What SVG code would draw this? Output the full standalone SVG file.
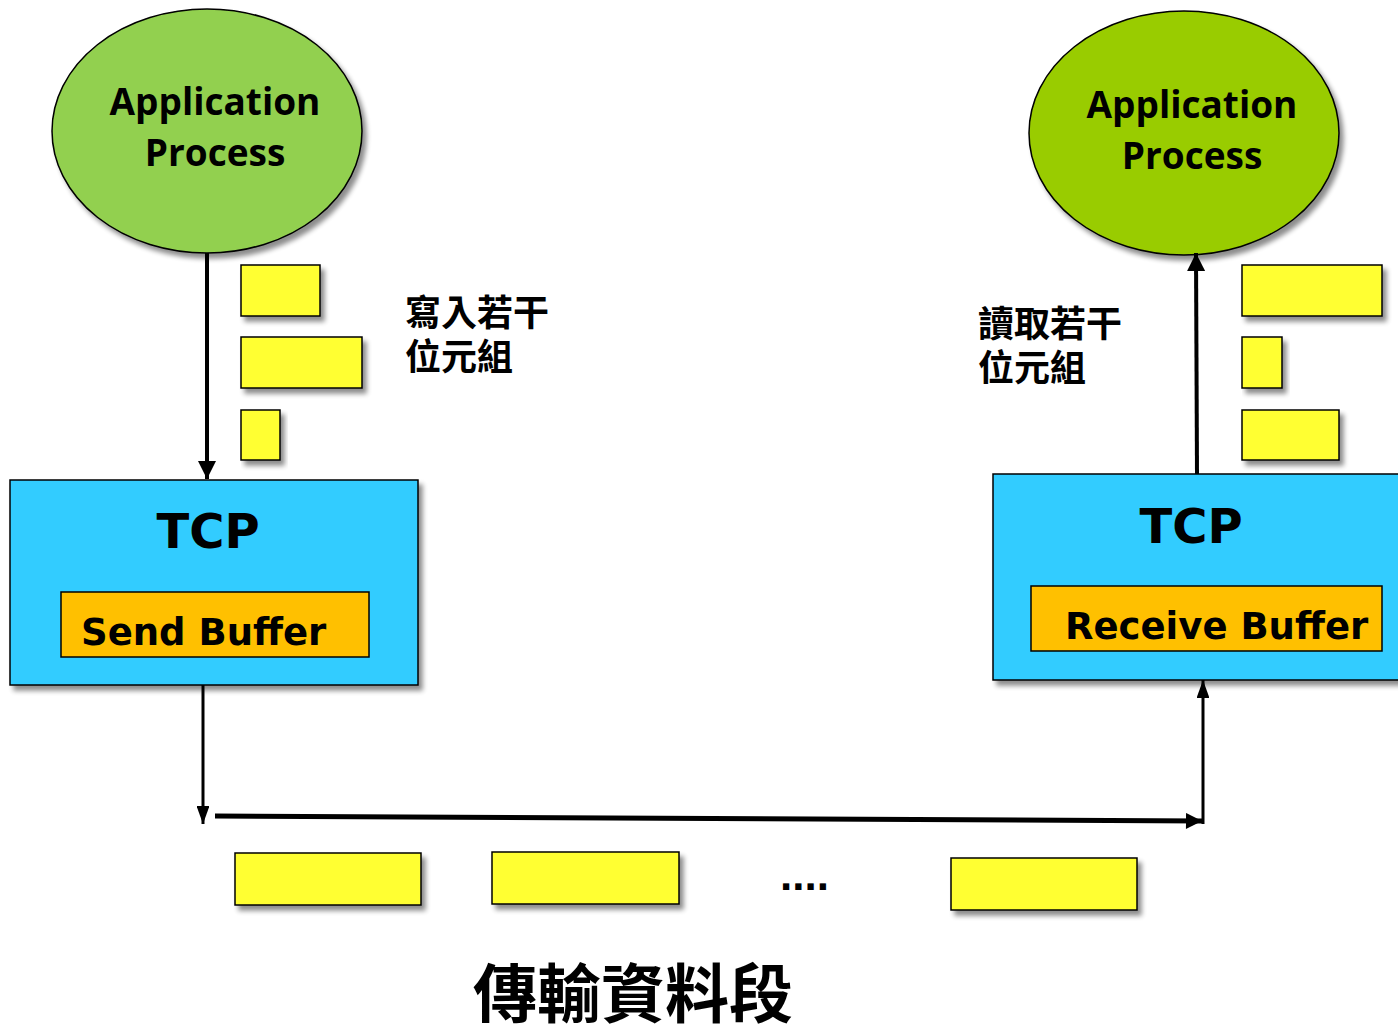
<svg xmlns="http://www.w3.org/2000/svg" width="1398" height="1029" viewBox="0 0 1398 1029">
  <defs>
    <filter id="shadow" x="-10%" y="-10%" width="130%" height="140%">
      <feGaussianBlur in="SourceAlpha" stdDeviation="2.5"/>
      <feOffset dx="4" dy="5" result="o"/>
      <feComponentTransfer><feFuncA type="linear" slope="0.45"/></feComponentTransfer>
      <feMerge><feMergeNode/><feMergeNode in="SourceGraphic"/></feMerge>
    </filter>
    <marker id="head" viewBox="0 0 10 10" refX="10" refY="5" markerWidth="4.5" markerHeight="4.5" orient="auto" markerUnits="strokeWidth">
      <path d="M0,0 L10,5 L0,10 z" fill="#000"/>
    </marker>
    <marker id="headWide" viewBox="0 0 10 10" refX="10" refY="5" markerWidth="3.5" markerHeight="3.2" orient="auto" markerUnits="strokeWidth">
      <path d="M0,0 L10,5 L0,10 z" fill="#000"/>
    </marker>
    <marker id="headThin" viewBox="0 0 14 10" refX="14" refY="5" markerWidth="6" markerHeight="4.3" orient="auto" markerUnits="strokeWidth">
      <path d="M0,0 L14,5 L0,10 z" fill="#000"/>
    </marker>
  </defs>
  <style>
    .proc { stroke: #000; stroke-width: 1.5; filter: url(#shadow); }
    .procText { font-family: "Open Sans", "Noto Sans", sans-serif; font-weight: bold; font-size: 37px; fill: #000; text-anchor: middle; }
    .tcp { fill: #33CCFF; stroke: #000; stroke-width: 1.5; filter: url(#shadow); }
    .buf { fill: #FFC000; stroke: #000; stroke-width: 1.5; }
    .tcpText { font-family: "DejaVu Sans", Verdana, sans-serif; font-weight: bold; font-size: 48px; fill: #000; text-anchor: middle; }
    .bufText { font-family: "DejaVu Sans", Verdana, sans-serif; font-weight: bold; font-size: 37px; fill: #000; }
    .seg { fill: #FFFF33; stroke: #000; stroke-width: 1.5; filter: url(#shadow); }
    .cjk { font-family: "Noto Sans CJK TC", "Noto Sans CJK SC", sans-serif; font-weight: bold; fill: #000; }
    .note { font-size: 36px; }
    .wire { fill: none; stroke: #000; }
  </style>

  <rect width="1398" height="1029" fill="#fff"/>

  <!-- sending application -->
  <g id="app-send">
    <ellipse class="proc" cx="207" cy="131" rx="155" ry="122" fill="#92D050"/>
    <text class="procText" x="215" y="115">Application</text>
    <text class="procText" x="215" y="166">Process</text>
  </g>

  <!-- receiving application -->
  <g id="app-recv">
    <ellipse class="proc" cx="1184" cy="133" rx="155" ry="122" fill="#99CC00"/>
    <text class="procText" x="1192" y="118">Application</text>
    <text class="procText" x="1192" y="169">Process</text>
  </g>

  <!-- sending TCP -->
  <g id="tcp-send">
    <rect class="tcp" x="10" y="480" width="408" height="205"/>
    <text class="tcpText" x="208" y="548">TCP</text>
    <rect class="buf" x="61" y="592" width="308" height="65"/>
    <text class="bufText" x="81" y="645">Send Buffer</text>
  </g>

  <!-- receiving TCP -->
  <g id="tcp-recv">
    <rect class="tcp" x="993" y="474" width="410" height="206"/>
    <text class="tcpText" x="1191" y="543">TCP</text>
    <rect class="buf" x="1031" y="586" width="351" height="65"/>
    <text class="bufText" x="1065" y="639">Receive Buffer</text>
  </g>

  <!-- bytes written by the sender -->
  <g id="bytes-write">
    <rect class="seg" x="241" y="265" width="79" height="51"/>
    <rect class="seg" x="241" y="337" width="121" height="51"/>
    <rect class="seg" x="241" y="410" width="39" height="50"/>
    <text class="cjk note" x="405" y="326">寫入若干</text>
    <text class="cjk note" x="405" y="370">位元組</text>
  </g>

  <!-- bytes read by the receiver -->
  <g id="bytes-read">
    <rect class="seg" x="1242" y="265" width="140" height="51"/>
    <rect class="seg" x="1242" y="337" width="40" height="51"/>
    <rect class="seg" x="1242" y="410" width="97" height="50"/>
    <text class="cjk note" x="978" y="337">讀取若干</text>
    <text class="cjk note" x="978" y="381">位元組</text>
  </g>

  <!-- segments in transit -->
  <g id="segments">
    <rect class="seg" x="235" y="853" width="186" height="52"/>
    <rect class="seg" x="492" y="852" width="187" height="52"/>
    <rect class="seg" x="951" y="858" width="186" height="52"/>
    <text font-family="Liberation Sans, sans-serif" font-weight="bold" font-size="44" x="780" y="890">....</text>
    <text class="cjk" font-size="64" x="633" y="1017" text-anchor="middle">傳輸資料段</text>
  </g>

  <!-- connectors -->
  <g id="connectors">
    <line class="wire" x1="207" y1="253" x2="207" y2="479" stroke-width="4" marker-end="url(#head)"/>
    <line class="wire" x1="1197" y1="474" x2="1196" y2="253" stroke-width="4" marker-end="url(#head)"/>
    <line class="wire" x1="203" y1="685" x2="203" y2="824" stroke-width="3" marker-end="url(#headThin)"/>
    <line class="wire" x1="215" y1="816" x2="1202" y2="821" stroke-width="5" marker-end="url(#headWide)"/>
    <line class="wire" x1="1203" y1="824" x2="1203" y2="680" stroke-width="3" marker-end="url(#headThin)"/>
  </g>
</svg>
